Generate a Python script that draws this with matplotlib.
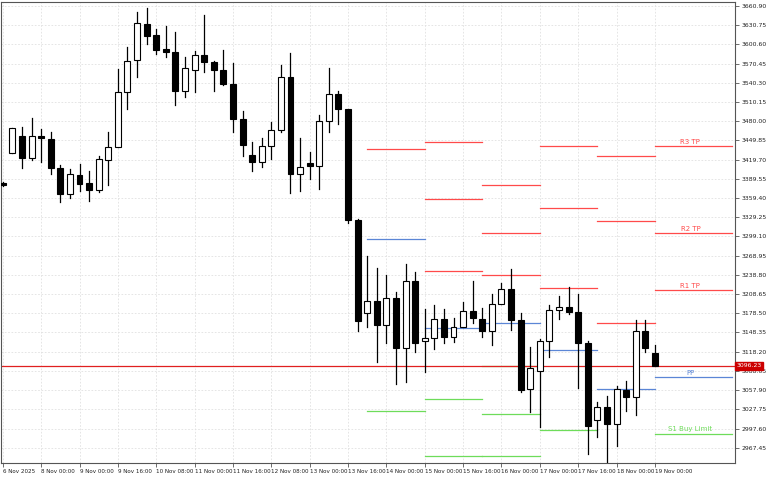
import matplotlib
matplotlib.use("Agg")
import matplotlib.pyplot as plt
from matplotlib.patches import Rectangle

opens  = [3383.2,3430.3,3457.0,3422.4,3457.0,3452.2,3406.7,3366.0,3395.8,3383.2,
          3372.2,3419.3,3439.7,3526.0,3576.2,3632.6,3615.4,3593.4,3588.7,3527.5,
          3560.5,3584.0,3573.0,3560.5,3538.5,3483.6,3427.1,3416.1,3441.2,3466.3,
          3549.5,3397.3,3414.6,3409.9,3480.5,3522.8,3499.3,3325.2,3179.2,3198.0,
          3160.4,3202.8,3124.3,3229.5,3135.3,3140.0,3169.8,3141.6,3157.3,3182.4,
          3169.8,3151.0,3193.4,3216.9,3168.3,3060.0,3088.2,3135.3,3183.9,3188.7,
          3180.8,3132.2,3011.4,3031.8,3005.1,3058.4,3047.4,3151.0,3116.5]
highs  = [3384.8,3469.5,3471.0,3485.2,3467.9,3463.2,3411.4,3405.2,3413.0,3402.0,
          3425.6,3463.2,3562.1,3596.6,3651.5,3657.8,3624.8,3629.5,3620.1,3580.9,
          3590.3,3646.8,3574.6,3591.9,3571.5,3496.2,3447.5,3453.8,3478.9,3568.3,
          3587.2,3453.8,3431.8,3489.9,3563.6,3527.5,3499.3,3326.7,3268.7,3249.8,
          3238.9,3212.2,3256.1,3243.6,3185.5,3191.8,3185.5,3171.4,3196.5,3229.5,
          3187.1,3209.1,3226.3,3248.3,3179.2,3125.9,3138.5,3191.8,3205.9,3220.0,
          3209.1,3135.3,3039.6,3049.0,3064.7,3072.6,3168.3,3168.3,3129.0]
lows   = [3378.5,3430.3,3406.7,3419.3,3416.1,3397.3,3353.4,3359.7,3370.6,3355.0,
          3369.1,3380.1,3439.7,3499.3,3549.5,3601.3,3585.6,3580.9,3505.6,3518.1,
          3526.0,3557.3,3527.5,3537.0,3463.2,3425.6,3402.0,3408.3,3420.9,3463.2,
          3367.5,3370.6,3389.5,3373.8,3463.2,3475.8,3320.4,3151.0,3157.3,3102.4,
          3132.2,3067.8,3071.0,3118.1,3086.7,3122.8,3132.2,3133.7,3157.3,3163.6,
          3141.6,3129.0,3193.4,3152.6,3055.3,3023.9,3000.4,3110.2,3169.8,3177.7,
          3061.6,2958.0,2984.7,2942.3,2970.6,3025.5,3019.2,3118.1,3096.2]
closes = [3380.1,3469.5,3422.4,3457.0,3453.8,3406.7,3366.0,3397.3,3381.6,3372.2,
          3420.9,3439.7,3526.0,3574.6,3634.2,3613.8,3591.9,3588.7,3527.5,3563.6,
          3584.0,3573.0,3560.5,3538.5,3483.6,3442.8,3416.1,3441.2,3466.3,3549.5,
          3397.3,3408.3,3409.9,3480.5,3522.8,3499.3,3325.2,3166.7,3198.0,3160.4,
          3202.8,3124.3,3229.5,3132.2,3140.0,3169.8,3141.6,3157.3,3182.4,3171.4,
          3151.0,3193.4,3216.9,3168.3,3058.4,3092.9,3135.3,3183.9,3188.7,3180.8,
          3132.2,3002.0,3031.8,3005.1,3060.0,3047.4,3151.0,3124.3,3096.23]

x_tick_labels = ["6 Nov 2025","8 Nov 00:00","9 Nov 00:00","9 Nov 16:00","10 Nov 08:00",
                 "11 Nov 00:00","11 Nov 16:00","12 Nov 08:00","13 Nov 00:00","13 Nov 16:00",
                 "14 Nov 00:00","15 Nov 00:00","15 Nov 16:00","16 Nov 00:00","17 Nov 00:00",
                 "17 Nov 16:00","18 Nov 00:00","19 Nov 00:00"]
y_ticks = [3660.90,3630.75,3600.60,3570.45,3540.30,3510.15,3480.00,3449.85,3419.70,3389.55,
           3359.40,3329.25,3299.10,3268.95,3238.80,3208.65,3178.50,3148.35,3118.20,3088.05,
           3057.90,3027.75,2997.60,2967.45]

# pivot segments: start candle, end candle
seg_start = [38, 44, 50, 56, 62, 68]
seg_end   = [44, 50, 56, 62, 68, 76]
seg_res   = [[3436.5], [3447.5,3358.1,3245.1], [3380.1,3304.8,3238.9],
             [3441.2,3344.0,3218.5], [3425.6,3323.6,3163.6], [3441.2,3304.8,3215.3]]
seg_pp    = [3295.3, 3155.7, 3163.6, 3121.2, 3060.0, 3078.8]
seg_sup   = [[3025.5], [3044.3,2954.9], [3096.1,3020.8,2954.9], [2995.7], [], [2989.4]]
last_labels = ["R3 TP", "R2 TP", "R1 TP"]
pp_label = "PP"
s1_label = "S1 Buy Limit"
current_price = 3096.23

RED = "#ff4a4a"; BLUE = "#5b86d6"; GREEN = "#6edc5a"

plt.rcParams['font.family'] = ['DejaVu Sans']
fig = plt.figure(figsize=(7.68, 4.8), dpi=100)
ax = fig.add_axes([0.001, 0.036, 0.956, 0.96])

ax.set_xlim(-0.21, 76.35)
ax.set_ylim(2943.9, 3667.2)

w = 0.62
for i, (o, h, l, c) in enumerate(zip(opens, highs, lows, closes)):
    ax.plot([i, i], [l, h], color="black", lw=0.9, zorder=3)
    bull = c >= o
    ax.add_patch(Rectangle((i - w/2, min(o, c)), w, max(abs(c - o), 0.8),
                           facecolor="white" if bull else "black", edgecolor="black",
                           lw=0.8, zorder=4))

for s, e, rs, pp, ss in zip(seg_start, seg_end, seg_res, seg_pp, seg_sup):
    for r in rs:
        ax.plot([s, e], [r, r], color=RED, lw=0.9, zorder=2)
    ax.plot([s, e], [pp, pp], color=BLUE, lw=0.9, zorder=2)
    for v in ss:
        ax.plot([s, e], [v, v], color=GREEN, lw=0.9, zorder=2)

xc = 71.7
for lab, r in zip(last_labels, seg_res[-1]):
    ax.text(xc, r + 2, lab, color=RED, fontsize=5, ha="center", va="bottom")
ax.text(xc, seg_pp[-1] + 2, pp_label, color=BLUE, fontsize=5, ha="center", va="bottom")
ax.text(xc, seg_sup[-1][0] + 2, s1_label, color=GREEN, fontsize=5, ha="center", va="bottom")

ax.axhline(current_price, color="#e02020", lw=0.9, zorder=2)

ax.set_xticks(range(0, 69, 4))
ax.set_xticklabels(x_tick_labels, fontsize=4.1, ha="left")
ax.set_yticks(y_ticks)
ax.set_yticklabels([f"{v:.2f}" for v in y_ticks], fontsize=4.4)
ax.yaxis.tick_right()
ax.tick_params(axis="both", length=3, width=0.6, color="#555555", pad=1.5, labelcolor="#222222")
ax.grid(True, color="#e0e0e0", linestyle=(0, (2, 2)), lw=0.6)
ax.set_axisbelow(True)
for sp in ax.spines.values():
    sp.set_color("#555555"); sp.set_linewidth(0.8)

ax.text(1.002, current_price, f"{current_price:.2f}", transform=ax.get_yaxis_transform(),
        fontsize=4.4, color="white", va="center", ha="left",
        bbox=dict(boxstyle="square,pad=0.25", fc="#cc0000", ec="#cc0000"))

fig.savefig("out.png", dpi=100)
